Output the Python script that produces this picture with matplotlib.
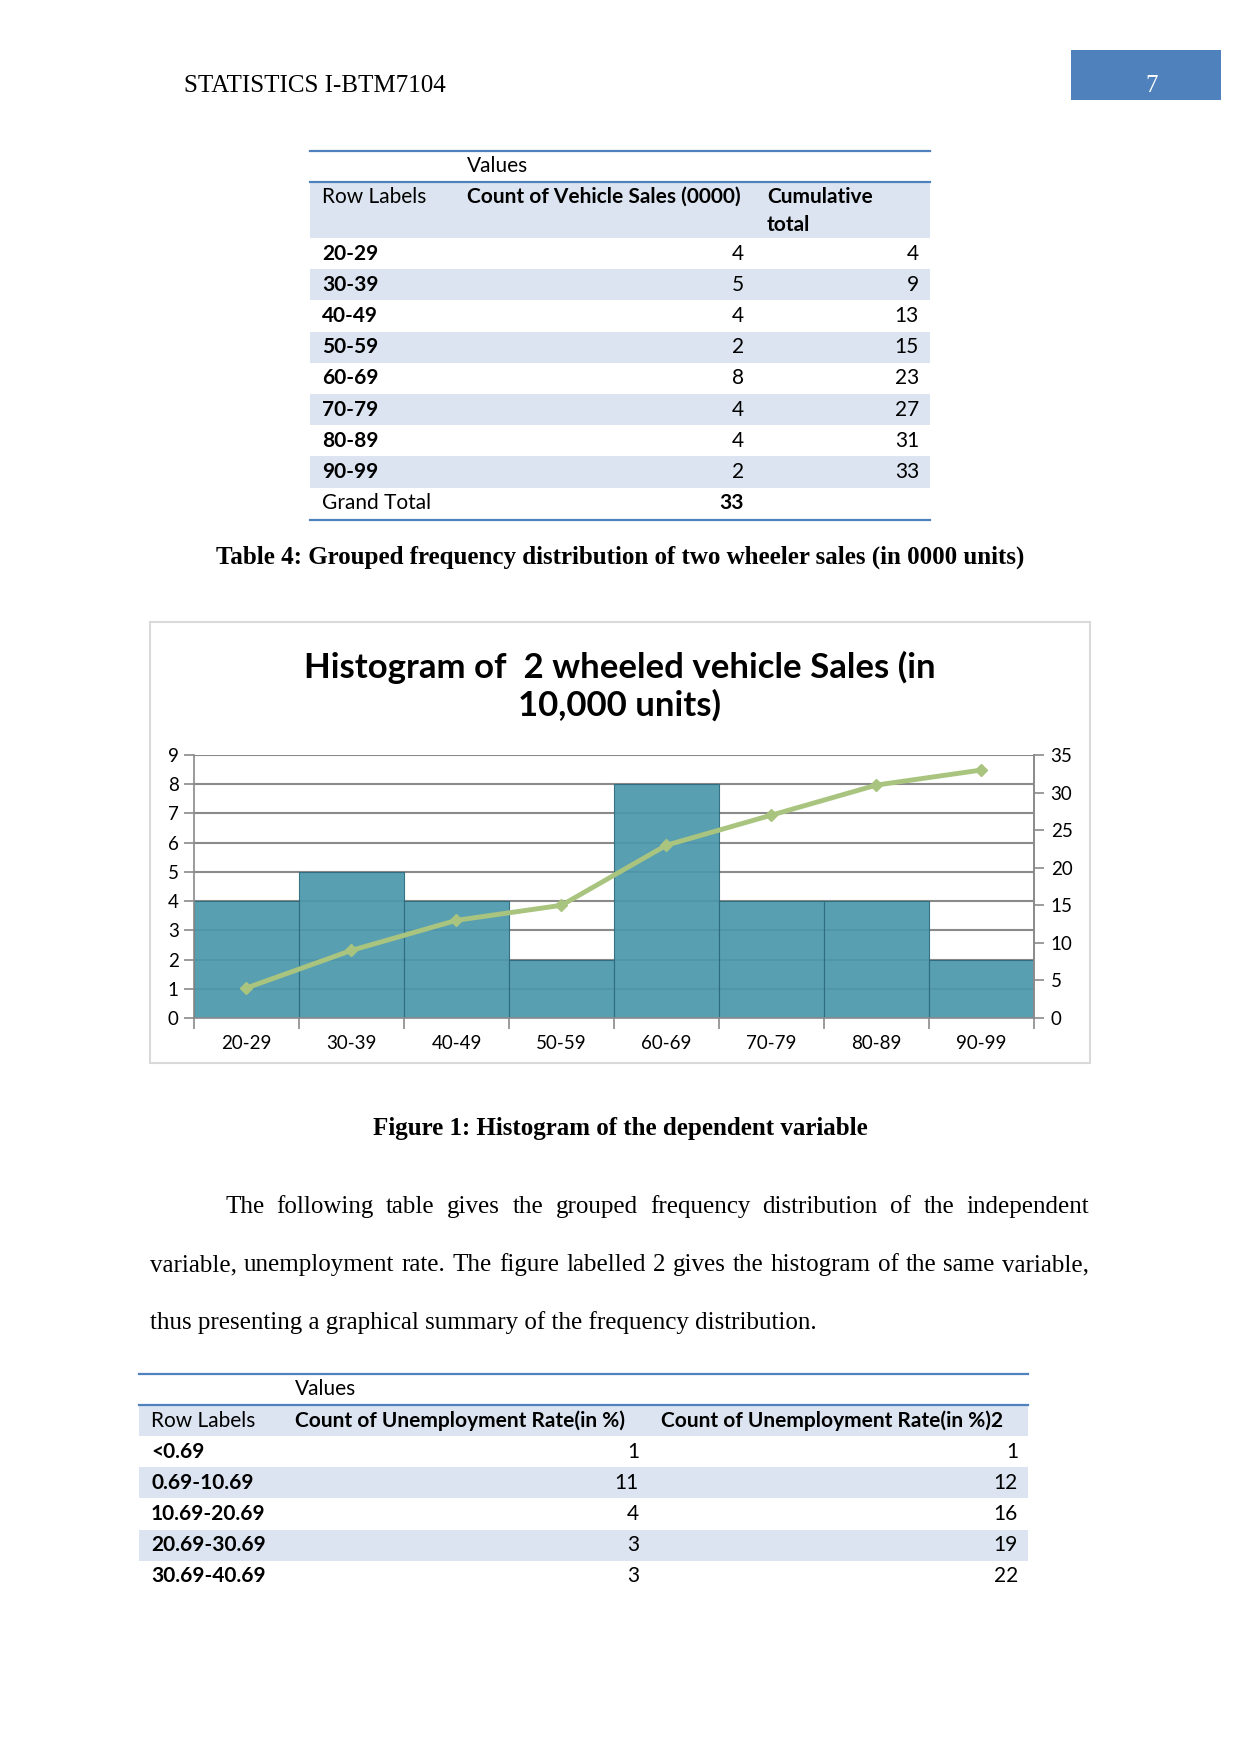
import numpy as np
import matplotlib
matplotlib.use("Agg")
import matplotlib.pyplot as plt
from matplotlib.patches import Rectangle
from matplotlib.lines import Line2D

# ---- data ----
sales_bins = ["20-29", "30-39", "40-49", "50-59", "60-69", "70-79", "80-89", "90-99"]
sales_count = [4, 5, 4, 2, 8, 4, 4, 2]
sales_cum = [4, 9, 13, 15, 23, 27, 31, 33]
sales_total = 33

unemp_bins = ["<0.69", "0.69-10.69", "10.69-20.69", "20.69-30.69", "30.69-40.69"]
unemp_count = [1, 11, 4, 3, 3]
unemp_cum = [1, 12, 16, 19, 22]

left_ticks = list(range(0, 10))
right_ticks = list(range(0, 36, 5))

W, H = 1241, 1754
fig = plt.figure(figsize=(W / 100, H / 100), dpi=100)
fig.patch.set_facecolor("white")

SERIF = "Liberation Serif"
SANS = "Lato"
BLUE = "#4f81bd"
BAND = "#dbe4f0"
FS_SERIF = 18
FS_TAB = 15


def fx(x):
    return x / W


def fy(y):
    return 1 - y / H


def txt(x, y, s, **kw):
    kw.setdefault("va", "center")
    return fig.text(fx(x), fy(y), s, **kw)


def hline(x0, x1, y, color=BLUE, lw=1.6):
    fig.add_artist(Line2D([fx(x0), fx(x1)], [fy(y), fy(y)], color=color, lw=lw))


def band(x0, x1, y0, y1, color=BAND):
    fig.add_artist(Rectangle((fx(x0), fy(y1)), fx(x1) - fx(x0), fy(y0) - fy(y1),
                             facecolor=color, edgecolor="none", zorder=0))


# ---- page header ----
txt(184, 86, "STATISTICS I-BTM7104", family=SERIF, fontsize=FS_SERIF)
band(1071, 1221, 50, 100, color=BLUE)
txt(1152, 86, "7", family=SERIF, fontsize=FS_SERIF, color="white", ha="center")

# ---- table 1 ----
tl, tr = 310, 930
hline(tl, tr, 151)
txt(467, 166, "Values", family=SANS, fontsize=FS_TAB)
hline(tl, tr, 182)
band(tl, tr, 183, 238)
txt(322, 197, "Row Labels", family=SANS, fontsize=FS_TAB)
txt(467, 197, "Count of Vehicle Sales (0000)", family=SANS, fontsize=FS_TAB, weight="bold")
txt(767, 197, "Cumulative", family=SANS, fontsize=FS_TAB, weight="bold")
txt(767, 225, "total", family=SANS, fontsize=FS_TAB, weight="bold")
row_h = 31.2
for i, (lab, c, cu) in enumerate(zip(sales_bins, sales_count, sales_cum)):
    y0 = 238 + i * row_h
    if i % 2 == 1:
        band(tl, tr, y0, y0 + row_h)
    yc = y0 + row_h / 2
    txt(322, yc, lab, family=SANS, fontsize=FS_TAB, weight="bold")
    txt(744, yc, str(c), family=SANS, fontsize=FS_TAB, ha="right")
    txt(919, yc, str(cu), family=SANS, fontsize=FS_TAB, ha="right")
yg = 238 + len(sales_bins) * row_h
txt(322, yg + row_h / 2, "Grand Total", family=SANS, fontsize=FS_TAB)
txt(744, yg + row_h / 2, str(sales_total), family=SANS, fontsize=FS_TAB, ha="right", weight="bold")
hline(tl, tr, yg + row_h + 1)

txt(620, 557, "Table 4: Grouped frequency distribution of two wheeler sales (in 0000 units)",
    family=SERIF, fontsize=FS_SERIF, weight="bold", ha="center")

# ---- chart ----
fig.add_artist(Rectangle((fx(150), fy(1063)), fx(1090) - fx(150), fy(622) - fy(1063),
                         facecolor="white", edgecolor="#d9d9d9", lw=1.5, zorder=0))
txt(620, 667, "Histogram of  2 wheeled vehicle Sales (in", family=SANS, fontsize=25,
    weight="bold", ha="center")
txt(620, 705, "10,000 units)", family=SANS, fontsize=25, weight="bold", ha="center")

ax = fig.add_axes([fx(194), fy(1018), fx(1034) - fx(194), fy(755) - fy(1018)])
xpos = np.arange(len(sales_bins))
ax.bar(xpos, sales_count, width=1.0, color="#4b97ac", edgecolor="#2d6b7d",
       linewidth=0.8, alpha=0.92, zorder=2)
ax.set_xlim(-0.5, len(sales_bins) - 0.5)
ax.set_ylim(0, 9)
ax.set_yticks(left_ticks)
ax.grid(axis="y", color="#8a8a8a", lw=1.5, zorder=1)
ax.set_axisbelow(True)
ax.set_xticks(np.arange(-0.5, len(sales_bins), 1.0))
ax.set_xticklabels([])
ax.set_xticks(xpos, minor=True)
ax.set_xticklabels(sales_bins, minor=True, family=SANS, fontsize=13.5)
ax.tick_params(axis="x", which="major", length=8, color="#8a8a8a", width=1.2)
ax.tick_params(axis="x", which="minor", length=0, pad=12)
ax.tick_params(axis="y", length=7, color="#8a8a8a", width=1.2, pad=4)
for lab in ax.get_yticklabels():
    lab.set_family(SANS)
    lab.set_fontsize(13.5)
for side in ["left", "bottom", "right"]:
    ax.spines[side].set_color("#8a8a8a")
    ax.spines[side].set_linewidth(1.2)
ax.spines["top"].set_visible(False)

ax2 = ax.twinx()
ax2.plot(xpos, sales_cum, color="#a8c47e", lw=3.5, marker="D", markersize=6,
         markerfacecolor="#a8c47e", markeredgecolor="#a8c47e", zorder=3)
ax2.set_ylim(0, 35)
ax2.set_yticks(right_ticks)
ax2.tick_params(axis="y", length=7, color="#8a8a8a", width=1.2, pad=5)
for lab in ax2.get_yticklabels():
    lab.set_family(SANS)
    lab.set_fontsize(13.5)
for side in ["left", "bottom", "top"]:
    ax2.spines[side].set_visible(False)
ax2.spines["right"].set_color("#8a8a8a")
ax2.spines["right"].set_linewidth(1.2)

txt(620, 1128, "Figure 1: Histogram of the dependent variable", family=SERIF,
    fontsize=FS_SERIF, weight="bold", ha="center")

# ---- body paragraph (justified) ----
renderer = fig.canvas.get_renderer()


def justify(words, x0, x1, y):
    items = [txt(0, y, w, family=SERIF, fontsize=FS_SERIF) for w in words]
    widths = [t.get_window_extent(renderer).width for t in items]
    gap = (x1 - x0 - sum(widths)) / (len(words) - 1)
    x = x0
    for t, w in zip(items, widths):
        t.set_x(fx(x))
        x += w + gap


justify("The following table gives the grouped frequency distribution of the independent".split(),
        225, 1089, 1207)
justify("variable, unemployment rate. The figure labelled 2 gives the histogram of the same variable,".split(),
        150, 1089, 1265)
txt(150, 1323, "thus presenting a graphical summary of the frequency distribution.",
    family=SERIF, fontsize=FS_SERIF)

# ---- table 2 ----
ul, ur = 139, 1028
hline(ul, ur, 1374)
txt(295, 1389, "Values", family=SANS, fontsize=FS_TAB)
hline(ul, ur, 1405)
band(ul, ur, 1406, 1436)
txt(151, 1421, "Row Labels", family=SANS, fontsize=FS_TAB)
txt(295, 1421, "Count of Unemployment Rate(in %)", family=SANS, fontsize=FS_TAB, weight="bold")
txt(661, 1421, "Count of Unemployment Rate(in %)2", family=SANS, fontsize=FS_TAB, weight="bold")
for i, (lab, c, cu) in enumerate(zip(unemp_bins, unemp_count, unemp_cum)):
    y0 = 1436 + i * row_h
    if i % 2 == 1:
        band(ul, ur, y0, y0 + row_h)
    yc = y0 + row_h / 2
    txt(151, yc, lab, family=SANS, fontsize=FS_TAB, weight="bold")
    txt(639, yc, str(c), family=SANS, fontsize=FS_TAB, ha="right")
    txt(1018, yc, str(cu), family=SANS, fontsize=FS_TAB, ha="right")

fig.savefig("out.png", dpi=100, facecolor="white")
